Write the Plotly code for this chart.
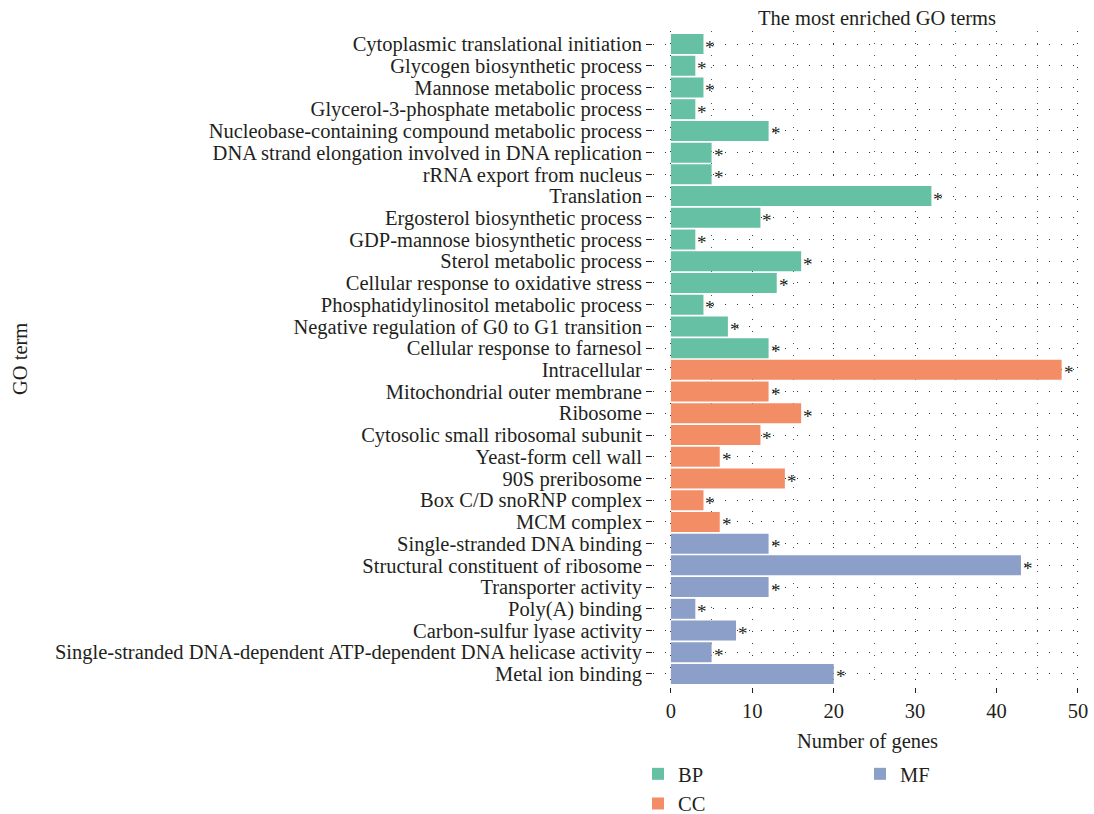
import plotly.graph_objects as go

# GO terms, top to bottom as listed on the chart
bp_terms = [
    "Cytoplasmic translational initiation",
    "Glycogen biosynthetic process",
    "Mannose metabolic process",
    "Glycerol-3-phosphate metabolic process",
    "Nucleobase-containing compound metabolic process",
    "DNA strand elongation involved in DNA replication",
    "rRNA export from nucleus",
    "Translation",
    "Ergosterol biosynthetic process",
    "GDP-mannose biosynthetic process",
    "Sterol metabolic process",
    "Cellular response to oxidative stress",
    "Phosphatidylinositol metabolic process",
    "Negative regulation of G0 to G1 transition",
    "Cellular response to farnesol",
]
bp_counts = [4, 3, 4, 3, 12, 5, 5, 32, 11, 3, 16, 13, 4, 7, 12]

cc_terms = [
    "Intracellular",
    "Mitochondrial outer membrane",
    "Ribosome",
    "Cytosolic small ribosomal subunit",
    "Yeast-form cell wall",
    "90S preribosome",
    "Box C/D snoRNP complex",
    "MCM complex",
]
cc_counts = [48, 12, 16, 11, 6, 14, 4, 6]

mf_terms = [
    "Single-stranded DNA binding",
    "Structural constituent of ribosome",
    "Transporter activity",
    "Poly(A) binding",
    "Carbon-sulfur lyase activity",
    "Single-stranded DNA-dependent ATP-dependent DNA helicase activity",
    "Metal ion binding",
]
mf_counts = [12, 43, 12, 3, 8, 5, 20]

groups = ["BP", "CC", "MF"]
colors = {"BP": "#66C0A4", "CC": "#F38D66", "MF": "#8C9FC9"}
x_ticks = [0, 10, 20, 30, 40, 50]

FONT = "Liberation Serif"
FS = 20.5
INK = "#231F20"

all_terms = bp_terms + cc_terms + mf_terms
n = len(all_terms)

W, H = 1094, 814
M_L, M_R, M_T, M_B = 653, 12, 31, 127
plot_w = W - M_L - M_R

fig = go.Figure()
series = {"BP": (bp_terms, bp_counts), "CC": (cc_terms, cc_counts), "MF": (mf_terms, mf_counts)}
for g in groups:
    terms, counts = series[g]
    fig.add_trace(go.Bar(
        x=counts, y=terms, orientation="h", name=g,
        marker=dict(color=colors[g], line=dict(width=0)),
        legend="legend2" if g == "MF" else "legend",
        legendgroup=g,
        hoverinfo="x+y",
    ))
    # significance marks at the end of each bar
    for t, c in zip(terms, counts):
        fig.add_annotation(
            x=c, y=t, text="*", showarrow=False, xanchor="left",
            xshift=0, yshift=-3, font=dict(family=FONT, size=19, color=INK),
        )

# y-axis title, placed at the far left of the figure
fig.add_annotation(
    text="GO term", textangle=-90, showarrow=False,
    xref="paper", yref="paper", x=(20 - M_L) / plot_w, y=0.5,
    xanchor="center", yanchor="middle",
    font=dict(family=FONT, size=FS, color=INK),
)

grid_dash = "1px,11px"
fig.update_layout(
    template="none",
    width=W, height=H,
    margin=dict(l=M_L, r=M_R, t=M_T, b=M_B, autoexpand=False),
    plot_bgcolor="white", paper_bgcolor="white",
    barmode="overlay", bargap=0.08,
    font=dict(family=FONT, size=FS, color=INK),
    title=dict(text="The most enriched GO terms", x=877 / W, xanchor="center",
               y=1 - 18 / H, yanchor="middle", yref="container",
               font=dict(family=FONT, size=FS, color=INK)),
    xaxis=dict(
        range=[-2.2, 50.5], tickmode="array", tickvals=x_ticks,
        ticks="outside", ticklen=5, tickcolor=INK, tickwidth=1,
        showline=False, zeroline=False, automargin=False,
        showgrid=True, gridcolor="#333333", gridwidth=1, griddash=grid_dash,
        minor=dict(dtick=5, tick0=0, showgrid=True, gridcolor="#555555",
                   griddash=grid_dash, ticks=""),
        title=dict(text="Number of genes", standoff=13,
                   font=dict(family=FONT, size=FS, color=INK)),
        tickfont=dict(family=FONT, size=FS, color=INK),
    ),
    yaxis=dict(
        categoryorder="array", categoryarray=all_terms,
        tickmode="array", tickvals=all_terms,
        range=[n - 1 + 0.6, -0.6], ticks="outside", ticklen=6,
        tickcolor=INK, showline=False, zeroline=False, automargin=False,
        showgrid=True, gridcolor="#333333", gridwidth=1, griddash=grid_dash,
        tickfont=dict(family=FONT, size=FS, color=INK),
    ),
    legend=dict(orientation="v", xref="container", yref="container",
                x=638 / W, xanchor="left", y=1 - 754 / H, yanchor="top",
                font=dict(family=FONT, size=FS, color=INK), tracegroupgap=0,
                bgcolor="rgba(0,0,0,0)"),
    legend2=dict(orientation="v", xref="container", yref="container",
                 x=860 / W, xanchor="left", y=1 - 754 / H, yanchor="top",
                 font=dict(family=FONT, size=FS, color=INK),
                 bgcolor="rgba(0,0,0,0)"),
    showlegend=True,
)

fig.write_html("out.html")
